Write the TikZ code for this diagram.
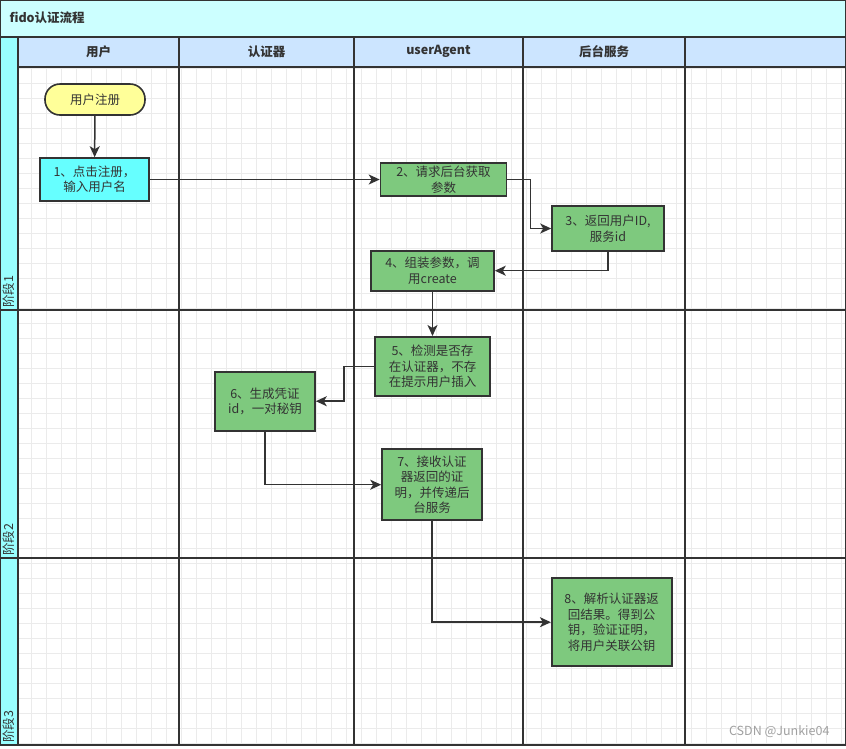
\documentclass[tikz,border=0pt]{standalone}
\usepackage{fontspec}
\setmainfont{Noto Sans CJK SC}
\usetikzlibrary{arrows.meta,calc}
\definecolor{titlebg}{HTML}{CCFFFF}
\definecolor{headbg}{HTML}{CCE5FF}
\definecolor{phasebg}{HTML}{99FFFF}
\definecolor{gridc}{HTML}{EBEBEB}
\definecolor{linec}{HTML}{333333}
\definecolor{greenc}{HTML}{7EC97E}
\definecolor{cyanc}{HTML}{66FFFF}
\definecolor{yellowc}{HTML}{FFFF99}
\definecolor{markc}{HTML}{A0A0A0}
\tikzset{
  box/.style={draw=linec, line width=1.6pt, fill=greenc, text=linec, align=center,
    inner sep=0pt, font=\fontsize{12.5}{15.5}\selectfont},
  lane/.style={draw=linec, line width=1.8pt},
  flow/.style={draw=linec, line width=1.5pt, -{Stealth[length=11pt,width=10pt,inset=3pt]}},
  headtxt/.style={font=\bfseries\fontsize{12.5}{15}\selectfont, text=linec},
  phasetxt/.style={font=\fontsize{12.5}{15}\selectfont, text=linec, rotate=90, anchor=west, inner sep=1pt}
}
\begin{document}
\begin{tikzpicture}[x=1pt,y=-1pt]
\useasboundingbox (0,0) rectangle (846,748);
% backgrounds
\fill[white] (0,0) rectangle (846,748);
\fill[titlebg] (0,0) rectangle (846,37);
\fill[headbg] (18,37) rectangle (846,67);
\fill[phasebg] (0,37) rectangle (18,745);
% grid
\begin{scope}
\clip (18,67) rectangle (846,745);
\foreach \i in {0,...,56} { \draw[gridc, line width=0.9pt] ({16.7+15*\i},67) -- ({16.7+15*\i},745); }
\foreach \j in {0,...,45} { \draw[gridc, line width=0.9pt] (18,{68.3+15*\j}) -- (846,{68.3+15*\j}); }
\end{scope}
% lane lines
\draw[lane] (0,37) -- (846,37);
\draw[lane] (18,67) -- (846,67);
\draw[lane] (0,310) -- (846,310);
\draw[lane] (0,558) -- (846,558);
\draw[lane] (0,745) -- (846,745);
\foreach \x in {18,179,354,523,685} { \draw[lane] (\x,37) -- (\x,745); }
\draw[lane] (0,0) rectangle (846,745);
% titles
\node[headtxt, anchor=west] (title) at (6,17.5) {fido认证流程};
\node[headtxt] (h1) at (98.5,51.5) {用户};
\node[headtxt] (h2) at (266.5,51.5) {认证器};
\node[headtxt] (h3) at (438.5,51.5) {userAgent};
\node[headtxt] (h4) at (604,51.5) {后台服务};
\node[phasetxt] (p1) at (9,309) {阶段1};
\node[phasetxt] (p2) at (9,557) {阶段2};
\node[phasetxt] (p3) at (9,744) {阶段3};
% nodes
\node[box, fill=yellowc, rounded corners=15pt, minimum width=100pt, minimum height=31pt] (start) at (95,99.5) {用户注册};
\node[box, fill=cyanc, minimum width=109pt, minimum height=43pt] (n1) at (94.5,179.5) {1、点击注册，\\输入用户名};
\node[box, minimum width=126pt, minimum height=33pt] (n2) at (443.5,179.5) {2、请求后台获取\\参数};
\node[box, minimum width=112pt, minimum height=45pt] (n3) at (608,228.5) {3、返回用户ID,\\服务id};
\node[box, minimum width=123pt, minimum height=40pt] (n4) at (432.5,270.7) {4、组装参数，调\\用create};
\node[box, minimum width=115pt, minimum height=59pt] (n5) at (432.5,366.3) {5、检测是否存\\在认证器，不存\\在提示用户插入};
\node[box, minimum width=100pt, minimum height=59pt] (n6) at (265,401.2) {6、生成凭证\\id，一对秘钥};
\node[box, minimum width=100pt, minimum height=71pt] (n7) at (432,484.7) {7、接收认证\\器返回的证\\明，并传递后\\台服务};
\node[box, minimum width=120pt, minimum height=88pt] (n8) at (611.7,622.2) {8、解析认证器返\\回结果。得到公\\钥，验证证明，\\将用户关联公钥};
% connectors
\draw[flow] (start) -- (n1);
\draw[flow] (n1) -- (n2);
\draw[flow] (n2.east) -- ++(23,0) |- (n3.west);
\draw[flow] (n3.south) |- (n4.east);
\draw[flow] (n4) -- (n5);
\draw[flow] (n5.west) -- ++(-30,0) |- (n6.east);
\draw[flow] (n6.south) |- (n7.west);
\draw[flow] (n7.south) |- (n8.west);
% watermark
\node[text=markc, font=\fontsize{12.5}{15}\selectfont, anchor=east] (wm) at (833,732) {CSDN @Junkie04};
\end{tikzpicture}
\end{document}
